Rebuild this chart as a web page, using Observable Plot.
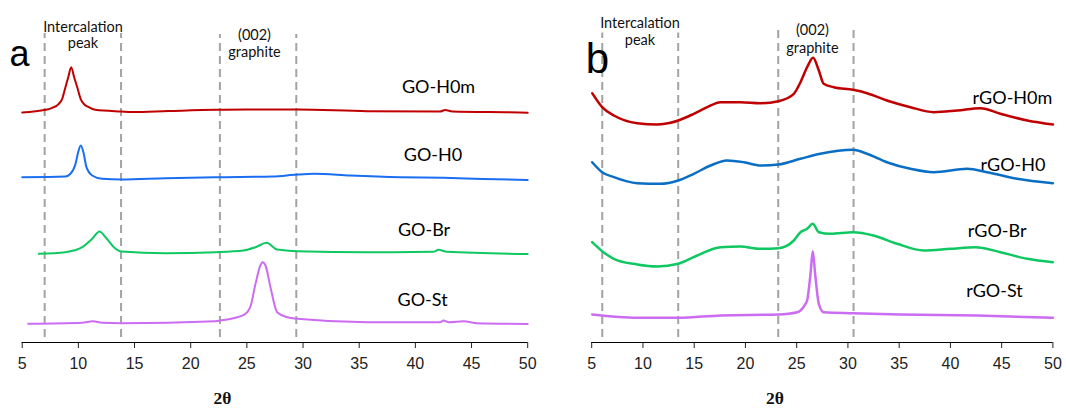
<!DOCTYPE html>
<html><head><meta charset="utf-8">
<script src="https://cdn.jsdelivr.net/npm/d3@7"></script>
<script src="https://cdn.jsdelivr.net/npm/@observablehq/plot@0.6"></script>
<style>
html,body{margin:0;padding:0;background:#fff;}
#wrap{position:relative;width:1066px;height:409px;overflow:hidden;background:#fff;}
#wrap svg{display:block;position:absolute;top:0;}
</style></head><body><div id="wrap"></div>
<script>
// x axis ticks (2θ, degrees)
const xTicks = [5, 10, 15, 20, 25, 30, 35, 40, 45, 50];

// Panel a: GO samples (offset intensity, a.u.)
const seriesA = ["GO-H0m", "GO-H0", "GO-Br", "GO-St"];
const colorsA = ["#c00000", "#1a6ef2", "#10c862", "#cc6cf2"];
const goH0m = [[5.0,230],[7.07,232.7],[7.67,234.7],[8.26,238.7],[8.56,243.7],[8.85,255.3],[9.1,265.3],[9.36,275.3],[9.63,265],[9.9,255.3],[10.2,243.7],[10.48,238.7],[10.93,235.3],[11.5,232.7],[13.84,231],[14.8,230.5],[18,231.5],[22.2,232.7],[25,233],[29.5,233],[35.7,231.3],[42.2,231],[42.65,232.5],[43.3,231],[49.3,230],[50,229.8]];
const goH0 = [[5.0,165.3],[8.85,166],[9.3,168.7],[9.75,178.7],[9.98,190.3],[10.22,197],[10.48,188.7],[10.72,175.3],[11.23,167],[12.12,163.7],[13.84,163],[17.76,164.3],[22.2,165.3],[27.3,166],[29.5,168],[31,168.7],[34.2,167],[38.7,165.3],[42.5,164.7],[46,163.5],[50,162.5]];
const goBr = [[6.48,88.7],[8.85,90.3],[10.34,95.3],[11.23,103.7],[11.88,111],[12.42,105.3],[13.16,95.3],[13.84,91],[17.76,89.3],[22.2,90.3],[24.7,92],[25.77,95.3],[26.75,99.7],[27.7,93],[29.5,91.3],[35.7,90.3],[41.6,90.7],[42.05,92.7],[42.8,90.7],[50,88.5]];
const goSt = [[5.53,18.7],[10.34,19.7],[11.3,21.3],[12.12,19.7],[13.84,19.3],[22.2,21.3],[22.65,22],[24.73,27.7],[25.3,35.3],[25.77,58.7],[26.2,77],[26.4,80.3],[26.66,77],[27.1,55.3],[27.7,30.3],[28.6,25.3],[29.5,23.7],[35.7,20.3],[42.2,20.3],[42.5,22],[42.98,20.3],[44.3,21.3],[45.5,19.3],[50,18.5]];

// Panel b: rGO samples (offset intensity, a.u.)
const seriesB = ["rGO-H0m", "rGO-H0", "rGO-Br", "rGO-St"];
const colorsB = ["#c00000", "#0a6fc4", "#10c862", "#cc6cf2"];
const rgoH0m = [[5.05,249.3],[6.02,235.3],[7.16,227],[9.44,219.3],[11.39,218],[12.69,219.7],[13.44,222],[14.96,228.7],[16.27,235.3],[17.57,240.3],[19.5,240.3],[21.47,239.3],[23.22,241.3],[24.72,248.7],[25.37,260.3],[26.02,275.3],[26.6,284.7],[27.16,272],[27.64,258.7],[28.62,255.3],[30.5,252.7],[31.87,249.3],[33.8,242],[36.1,235.3],[38.38,230.3],[40.66,232],[42.93,234.3],[44.88,228.7],[47.5,222],[50,218]];
const rgoH0 = [[5.05,180.3],[6.02,170.3],[7.16,165.3],[9.44,159.3],[11.7,158.7],[13.44,162],[14.96,168.7],[16.6,177],[18.2,182],[19.84,180.3],[21.47,177],[23.22,178],[25.37,183.7],[27.3,188.7],[30.5,192.7],[31.87,188.7],[33.8,180.3],[36.1,173.7],[38.38,170.3],[41.63,173.7],[43.58,170.3],[46.5,163.7],[50,159.3]];
const rgoBr = [[5.05,100.3],[6.02,91.3],[7.16,83.7],[9.44,78],[11.39,76],[13.44,78.7],[15.3,87],[17.57,95.3],[19.5,96],[21.47,93.7],[23.22,94.3],[24.72,102],[25.37,110.3],[26.02,113.7],[26.57,118.7],[27.16,110.3],[28.3,108.7],[30.5,110.3],[32.5,107],[34.8,98.7],[37.4,92],[40,93.7],[42.44,95.3],[44.88,90.3],[47.5,83.7],[50,80.3]];
const rgoSt = [[5.05,28],[9.44,24.7],[13.44,24.7],[17.57,27],[23.22,28],[25.05,30.3],[25.37,32],[25.86,38.7],[26.02,42],[26.35,68.7],[26.57,91.3],[26.8,68.7],[27.16,38.7],[27.64,30.3],[30.5,29.3],[35.1,28],[42.6,27],[50,24.7]];

// Region markers (2θ)
const dashesA = [7.0, 13.8, 22.6, 29.4];
const dashesB = [6.03, 13.44, 23.2, 30.55];

function rows(names, arrays) {
  return names.flatMap((s, i) => arrays[i].map(([x, y]) => ({series: s, x, y})));
}

function makePanel(cfg) {
  const data = rows(cfg.names, cfg.arrays);
  const svg = Plot.plot({
    width: 533, height: 409,
    marginTop: 0, marginBottom: 67, marginLeft: cfg.ml, marginRight: cfg.mr,
    x: {domain: [5, 50], ticks: xTicks, tickSize: 6, tickPadding: 9, label: null, tickFormat: d => String(d)},
    y: {domain: [0, 342], axis: null},
    color: {domain: cfg.names, range: cfg.colors},
    style: {fontFamily: "'Liberation Sans', Arial, sans-serif", fontSize: "16px", color: "#222", background: "transparent", overflow: "visible"},
    marks: [
      Plot.ruleX(cfg.dashes, {x: d => d, y1: 5, y2: (d, i) => cfg.dashTop[i], stroke: "#a3a3a3", strokeWidth: 2, strokeDasharray: "8,5"}),
      Plot.ruleY([0], {stroke: "#000", strokeWidth: 1}),
      Plot.text(cfg.names, {x: cfg.labelX, y: cfg.labelY, text: d => d, fontFamily: "Lato, 'Open Sans', sans-serif", fontSize: 18, fill: "#000", textAnchor: "middle", lineAnchor: "bottom"}),
      Plot.line(data, {x: "x", y: "y", z: "series", stroke: "series", strokeWidth: cfg.sw, curve: "monotone-x"}),
      Plot.text([cfg.intercal], {x: cfg.annX[0], y: cfg.annY[0], text: d => d, fontFamily: "Lato, 'Open Sans', sans-serif", fontSize: 14.5, fill: "#111", lineAnchor: "bottom", lineHeight: cfg.lh[0]}),
      Plot.text([cfg.graphite], {x: cfg.annX[1], y: cfg.annY[1], text: d => d, fontFamily: "Lato, 'Open Sans', sans-serif", fontSize: 14.5, fill: "#111", lineAnchor: "bottom", lineHeight: cfg.lh[1]}),
      Plot.text([cfg.letter], {x: cfg.letterX, y: cfg.letterY, text: d => d, fontFamily: "'Liberation Sans', Arial, sans-serif", fontSize: cfg.letterSize, fill: "#000", lineAnchor: "bottom"}),
      Plot.text(["2θ"], {x: cfg.titleX, y: -56, text: d => d, fontFamily: "'Liberation Serif', serif", fontWeight: "bold", fontSize: 17.5, fill: "#111", lineAnchor: "middle"})
    ]
  });
  svg.style.left = cfg.left + "px";
  return svg;
}

const wrap = document.getElementById("wrap");
wrap.appendChild(makePanel({
  left: 0,
  names: seriesA, colors: colorsA, arrays: [goH0m, goH0, goBr, goSt],
  ml: 21.7, mr: 5.8, sw: 2, dashes: dashesA, dashTop: [309, 309, 308, 308],
  labelX: [42.06, 41.57, 40.77, 40.64], labelY: [249.3, 182, 107, 37],
  intercal: "Intercalation\npeak", graphite: "(002)\ngraphite",
  annX: [10.41, 25.68], annY: [295, 285.5], lh: [1.08, 1.15],
  letter: "a", letterX: 4.76, letterY: 277, letterSize: 36, titleX: 22.83
}));
wrap.appendChild(makePanel({
  left: 533,
  names: seriesB, colors: colorsB, arrays: [rgoH0m, rgoH0, rgoBr, rgoSt],
  ml: 58.2, mr: 13.6, sw: 2.5, dashes: dashesB, dashTop: [309.5, 309.5, 313, 313],
  labelX: [46.05, 46.1, 44.56, 44.3], labelY: [239, 172, 105.3, 45.3],
  intercal: "Intercalation\npeak", graphite: "(002)\ngraphite",
  annX: [9.71, 26.54], annY: [298, 290], lh: [1.17, 1.24],
  letter: "b", letterX: 5.57, letterY: 270, letterSize: 42, titleX: 22.87
}));
</script>
</body></html>
